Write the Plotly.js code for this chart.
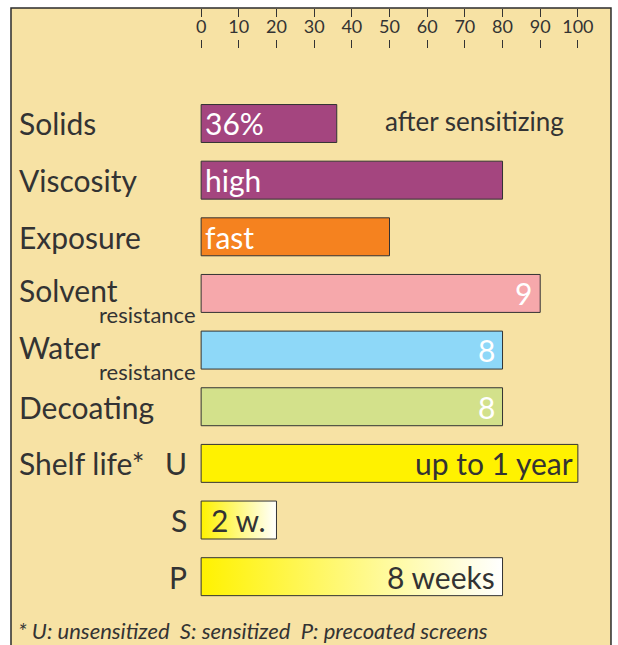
<!DOCTYPE html>
<html>
<head>
<meta charset="utf-8">
<script src="https://cdn.plot.ly/plotly-3.0.1.min.js"></script>
<style>html,body{margin:0;padding:0;background:#fff;}#chart{width:618px;height:645px;}</style>
</head>
<body>
<div id="chart"></div>
<script>
// ---- data ----
const rowKeys   = ['Solids','Viscosity','Exposure','Solvent','Water','Decoating','U','S','P'];
const rowLabels = ['Solids','Viscosity','Exposure','Solvent','Water','Decoating','Shelf life*','',''];
const subLabels = ['','','','resistance','resistance','','','',''];
const shelfKeys = ['','','','','','','U','S','P'];
const values    = [36, 80, 50, 90, 80, 80, 100, 20, 80];
const barText   = ['36%','high','fast','9','8','8','up to 1 year','2 w.','8 weeks'];
const barColors = ['#A4457F','#A4457F','#F5821F','#F6A8AB','#8ED8F8','#D3E18B','#FFF200', null, null];
const gradientRows = [7, 8];   // S and P bars, yellow -> white
const textColors = ['#FFFFFF','#FFFFFF','#FFFFFF','#FFFFFF','#FFFFFF','#FFFFFF','#333333','#333333','#333333'];
const textAlign  = ['left','left','left','right','right','right','right','right','right'];
const textShift  = [2, 2, 2, -6, -6, -6, -3, -9, -6];
const tickVals = [0,10,20,30,40,50,60,70,80,90,100];
const sideNote = 'after sensitizing';
const footnote = '* U: unsensitized\u00a0 S: sensitized\u00a0 P: precoated screens';

// ---- style ----
const FONT = 'Lato, "Open Sans", sans-serif';
const INK = '#333333';
const BG = '#F7E2A4';
const BAR_W = 0.67;

const solidIdx = values.map((v,i)=>i).filter(i => gradientRows.indexOf(i) < 0);

const traces = [{
  type: 'bar', orientation: 'h',
  y: solidIdx, x: solidIdx.map(i => values[i]),
  width: BAR_W,
  marker: {color: solidIdx.map(i => barColors[i]), line: {color: INK, width: 1}},
  hoverinfo: 'skip', showlegend: false
}];

gradientRows.forEach(i => {
  const v = values[i], h = BAR_W/2;
  traces.push({
    type: 'scatter', mode: 'lines',
    x: [0, v, v, 0, 0], y: [i-h, i-h, i+h, i+h, i-h],
    fill: 'toself',
    fillgradient: {type: 'horizontal', colorscale: [[0,'#FFF200'],[1,'#FFFFFF']]},
    line: {color: INK, width: 1},
    hoverinfo: 'skip', showlegend: false
  });
});

const ann = [];
rowLabels.forEach((t,i) => {
  if (!t) return;
  const hasSub = subLabels[i] !== '';
  ann.push({xref:'paper', yref:'y', x:-0.483, y:i, xanchor:'left', yanchor:'middle',
    text:t, showarrow:false, yshift: hasSub ? 3 : 0, font:{family:FONT, size:30, color:INK}});
});
subLabels.forEach((t,i) => {
  if (!t) return;
  ann.push({xref:'paper', yref:'y', x:-0.005, y:i, xanchor:'right', yanchor:'middle',
    text:t, showarrow:false, yshift:-21, font:{family:FONT, size:22, color:INK}});
});
shelfKeys.forEach((t,i) => {
  if (!t) return;
  ann.push({xref:'paper', yref:'y', x:-0.029, y:i, xanchor:'right', yanchor:'middle',
    text:t, showarrow:false, font:{family:FONT, size:30, color:INK}});
});
barText.forEach((t,i) => {
  const left = textAlign[i] === 'left';
  ann.push({xref:'x', yref:'y', x: left ? 0 : values[i], y:i,
    xanchor: left ? 'left' : 'right', yanchor:'middle',
    xshift: textShift[i],
    text:t, showarrow:false, font:{family:FONT, size:30, color:textColors[i]}});
});
ann.push({xref:'paper', yref:'y', x:0.966, y:0, xanchor:'right', yanchor:'middle', yshift:2,
  text:sideNote, showarrow:false, font:{family:FONT, size:26, color:INK}});
ann.push({xref:'paper', yref:'paper', x:-0.482, y:-0.043, xanchor:'left', yanchor:'middle',
  text:'<i>'+footnote+'</i>', showarrow:false, borderpad:0, font:{family:FONT, size:22, color:INK}});

const layout = {
  width: 618, height: 645,
  margin: {l:200, r:39, t:8, b:40, pad:0},
  paper_bgcolor: '#FFFFFF',
  plot_bgcolor: 'rgba(0,0,0,0)',
  hovermode: false,
  showlegend: false,
  bargap: 0,
  xaxis: {
    range: [-0.3, 100.3], side: 'top', anchor: 'free', position: 0.933,
    tickvals: tickVals, ticks: 'outside', ticklen: 8, tickwidth: 1, tickcolor: INK,
    showline: false, showgrid: false, zeroline: false,
    tickfont: {family: FONT, size: 18, color: INK}, fixedrange: true
  },
  xaxis2: {
    range: [-0.3, 100.3], overlaying: 'x', side: 'top', anchor: 'free', position: 0.985,
    tickvals: tickVals, ticks: 'outside', ticklen: 8, tickwidth: 1, tickcolor: INK,
    showticklabels: false, showline: false, showgrid: false, zeroline: false, fixedrange: true
  },
  yaxis: {
    domain: [0, 0.9129], range: [8.5, -1.121],
    showticklabels: false, ticks: '', showgrid: false, zeroline: false, showline: false, fixedrange: true
  },
  shapes: [{
    type: 'rect', xref: 'paper', yref: 'paper', layer: 'below',
    x0: -0.4987, x1: 1.0844, y0: -0.09, y1: 1.0,
    fillcolor: BG, line: {color: '#2B2B2B', width: 1.5}
  }],
  annotations: ann
};

// invisible point on xaxis2 so its ticks render
traces.push({type:'scatter', x:[0], y:[0], xaxis:'x2', mode:'markers',
  marker:{opacity:0}, hoverinfo:'skip', showlegend:false});

Plotly.newPlot('chart', traces, layout, {staticPlot: true, displayModeBar: false});
</script>
</body>
</html>
